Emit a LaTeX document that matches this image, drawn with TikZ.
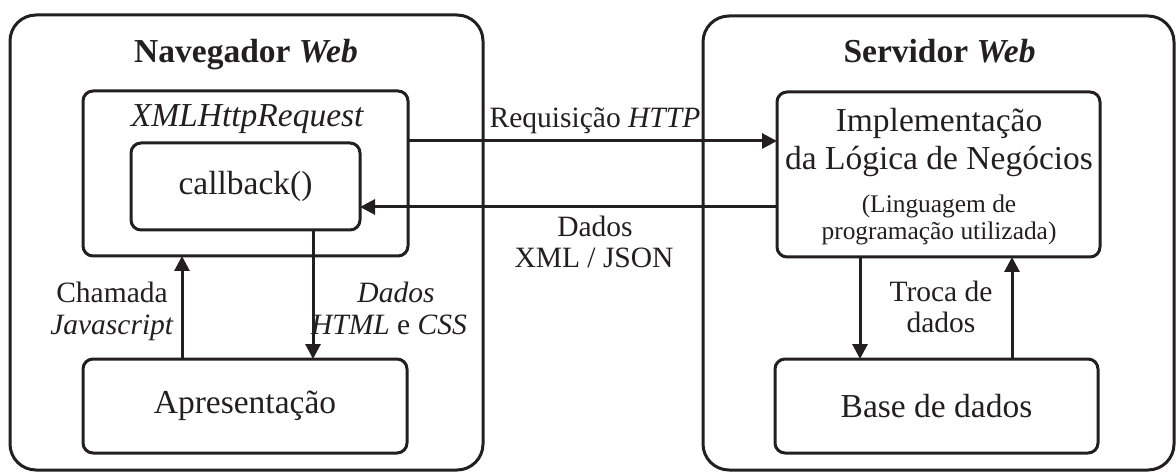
\documentclass[tikz,border=0pt]{standalone}
\usepackage{fontspec}
\setmainfont{Liberation Serif}
\usetikzlibrary{arrows.meta}
\definecolor{ink}{RGB}{35,31,32}
\tikzset{
  x=0.5pt, y=-0.5pt,
  every node/.style={text=ink},
  outerbox/.style={draw=ink, line width=1.5pt, rounded corners=13pt, inner sep=0pt, outer sep=0pt},
  innerbox/.style={draw=ink, line width=1.5pt, rounded corners=5pt, inner sep=0pt, outer sep=0pt,
                   font=\fontsize{16.75}{20}\selectfont},
  title/.style={anchor=base, font=\fontsize{16.75}{20}\selectfont\bfseries},
  maintext/.style={anchor=base, inner sep=0pt, font=\fontsize{16.75}{20}\selectfont},
  smalltext/.style={anchor=base, inner sep=0pt, font=\fontsize{12.7}{14}\selectfont},
  lbl/.style={anchor=base, inner sep=0pt, font=\fontsize{14.75}{16}\selectfont},
  arr/.style={draw=ink, line width=1.5pt, -{Triangle[length=7.5pt,width=7.5pt]}},
}
\begin{document}
\begin{tikzpicture}
\useasboundingbox (0,0) rectangle (1176,475);

% browser side
\node[outerbox, minimum width=236.5pt, minimum height=227.5pt] (nav) at (246.5,242.5) {};
\node[title] (navt) at (246,63) {Navegador \textit{Web}};
\node[innerbox, minimum width=162.5pt, minimum height=82.5pt] (xhr) at (245.5,173.5) {};
\node[maintext] (xhrt) at (247.5,127) {\textit{XMLHttpRequest}};
\node[innerbox, minimum width=114.5pt, minimum height=43.5pt] (cb) at (245.5,186.5) {callback()};
\node[innerbox, minimum width=162pt, minimum height=47pt] (apres) at (245,406) {Apresentação};

% server side
\node[outerbox, minimum width=235.5pt, minimum height=227pt] (srv) at (938.5,243) {};
\node[title] (srvt) at (939.5,63) {Servidor \textit{Web}};
\node[innerbox, minimum width=161.5pt, minimum height=82.5pt] (impl) at (938.5,174.5) {};
\node[maintext] (impl1) at (939,132) {Implementação};
\node[maintext] (impl2) at (939,170) {da Lógica de Negócios};
\node[smalltext] (impl3) at (939,213) {(Linguagem de};
\node[smalltext] (impl4) at (939,240) {programação utilizada)};
\node[innerbox, minimum width=161.5pt, minimum height=47pt] (base) at (936.5,406) {Base de dados};

% connector levels
\coordinate (reqy) at (0,141);
\coordinate (resy) at (0,207);
\coordinate (callx) at (182,0);
\coordinate (htmlx) at (313,0);
\coordinate (downx) at (860,0);
\coordinate (upx) at (1012,0);

% connectors
\draw[arr] (xhr.east |- reqy) -- (impl.west |- reqy);
\draw[arr] (impl.west |- resy) -- (cb.east |- resy);
\draw[arr] (apres.north -| callx) -- (xhr.south -| callx);
\draw[arr] (cb.south -| htmlx) -- (apres.north -| htmlx);
\draw[arr] (impl.south -| downx) -- (base.north -| downx);
\draw[arr] (base.north -| upx) -- (impl.south -| upx);

% connector labels
\node[lbl] (lreq) at (595,128) {Requisição \textit{HTTP}};
\node[lbl] (lres1) at (595,237) {Dados};
\node[lbl] (lres2) at (594,268) {XML / JSON};
\node[lbl] (lcall1) at (112,303) {Chamada};
\node[lbl] (lcall2) at (112,335) {\textit{Javascript}};
\node[lbl] (lhtml1) at (396,303) {\textit{Dados}};
\node[lbl] (lhtml2) at (389,335) {\textit{HTML} e \textit{CSS}};
\node[lbl] (ltroca1) at (941,302) {Troca de};
\node[lbl] (ltroca2) at (941,333) {dados};
\end{tikzpicture}
\end{document}
